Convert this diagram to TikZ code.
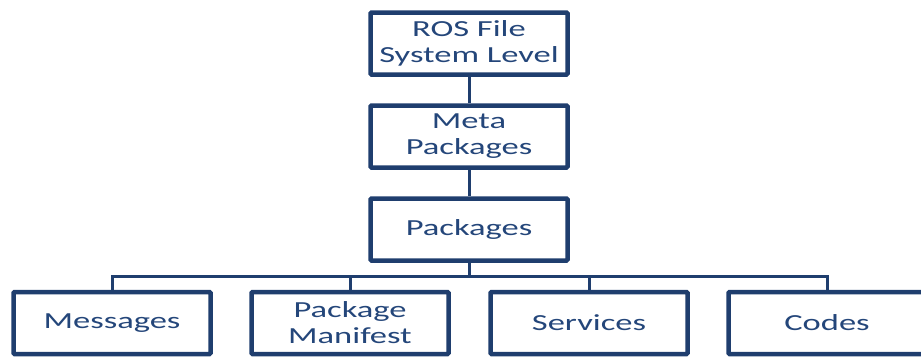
\documentclass[tikz,border=0pt]{standalone}
\usepackage{fontspec}
\setmainfont{Carlito}[FakeStretch=1.5]
\usetikzlibrary{positioning}

\definecolor{rosline}{RGB}{31,62,110}
\definecolor{rostext}{RGB}{36,70,122}

\tikzset{
  levelbox/.style={draw=rosline, line width=4.5pt, fill=white, rounded corners=1pt,
    minimum width=197pt, minimum height=62pt, inner sep=2pt, align=center,
    text=rostext, font=\fontsize{23}{26}\selectfont},
  link/.style={draw=rosline, line width=3pt}
}

\begin{document}
\begin{tikzpicture}[x=1pt,y=-1pt]
  \useasboundingbox (0,0) rectangle (921,359); %Fix page size

  \node[levelbox] (fs)   at (469,43.5)  {ROS File\\System Level}; %Top level
  \node[levelbox] (meta) at (469,136.5) {Meta\\Packages};
  \node[levelbox] (pkg)  at (469,229.5) {Packages};

  \node[levelbox] (msg)  at (112,323)   {Messages}; %Bottom row
  \node[levelbox] (man)  at (350,323)   {Package\\Manifest};
  \node[levelbox] (srv)  at (589,323)   {Services};
  \node[levelbox] (code) at (827,323)   {Codes};

  \coordinate (bus) at (469,276); %Branch point

  \draw[link] (fs) -- (meta);
  \draw[link] (meta) -- (pkg);
  \draw[link] (pkg) -- (bus);
  \draw[link] (msg.north) |- (bus) -| (code.north); %Bus line
  \draw[link] (man.north) -- (man.north |- bus);
  \draw[link] (srv.north) -- (srv.north |- bus);
\end{tikzpicture}
\end{document}
